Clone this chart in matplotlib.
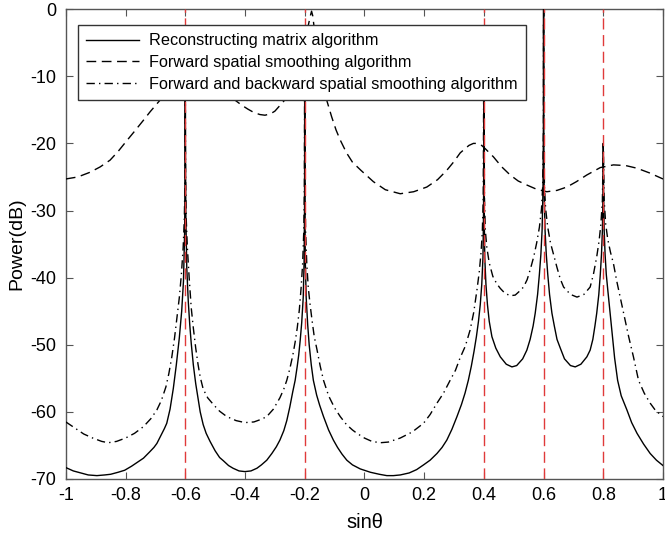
import numpy as np
import matplotlib.pyplot as plt

plt.rcParams['font.family'] = ['Liberation Sans', 'DejaVu Sans']
plt.rcParams['axes.unicode_minus'] = False

# reconstructing matrix algorithm (solid)
x_rm = [-1.0, -0.975, -0.95, -0.925, -0.896, -0.87, -0.85, -0.825, -0.803, -0.78,
        -0.76, -0.74, -0.72, -0.705, -0.695, -0.68, -0.67, -0.662, -0.651, -0.64,
        -0.63, -0.62, -0.612, -0.606, -0.602, -0.6005, -0.6, -0.5995, -0.598, -0.595,
        -0.59, -0.585, -0.58, -0.573, -0.565, -0.55, -0.54, -0.53, -0.517, -0.5,
        -0.485, -0.472, -0.455, -0.44, -0.42, -0.4, -0.38, -0.36, -0.345, -0.327,
        -0.31, -0.295, -0.283, -0.27, -0.26, -0.25, -0.24, -0.232, -0.225, -0.22,
        -0.215, -0.21, -0.205, -0.202, -0.2005, -0.2, -0.1995, -0.198, -0.195, -0.19,
        -0.185, -0.178, -0.171, -0.16, -0.15, -0.137, -0.12, -0.104, -0.09, -0.075,
        -0.059, -0.04, -0.014, 0.02, 0.05, 0.075, 0.097, 0.12, 0.15, 0.175,
        0.198, 0.22, 0.243, 0.26, 0.276, 0.293, 0.31, 0.325, 0.337, 0.348,
        0.358, 0.367, 0.375, 0.382, 0.388, 0.393, 0.397, 0.399, 0.3997, 0.4,
        0.4003, 0.401, 0.403, 0.407, 0.412, 0.418, 0.427, 0.44, 0.455, 0.475,
        0.494, 0.51, 0.53, 0.544, 0.555, 0.565, 0.572, 0.58, 0.586, 0.591,
        0.595, 0.598, 0.5995, 0.6, 0.6005, 0.602, 0.605, 0.609, 0.614, 0.62,
        0.628, 0.636, 0.645, 0.656, 0.67, 0.69, 0.706, 0.725, 0.745, 0.756,
        0.765, 0.772, 0.778, 0.785, 0.79, 0.794, 0.797, 0.799, 0.8, 0.801,
        0.803, 0.806, 0.81, 0.815, 0.823, 0.83, 0.838, 0.848, 0.86, 0.879,
        0.895, 0.913, 0.935, 0.957, 0.978, 1.0]
p_rm = [-68.3, -68.8, -69.1, -69.4, -69.5, -69.4, -69.3, -69.0, -68.7, -68.1,
        -67.5, -66.9, -66.0, -65.3, -64.7, -63.4, -62.5, -61.7, -59.6, -56.5,
        -53.0, -49.0, -45.0, -40.5, -33.0, -20.0, -8.0, -20.0, -31.0, -38.5,
        -43.5, -47.0, -49.8, -53.0, -55.8, -60.0, -61.9, -63.2, -64.4, -65.8,
        -66.8, -67.3, -68.0, -68.4, -68.8, -68.9, -68.8, -68.4, -67.9, -67.2,
        -66.2, -65.2, -64.2, -62.8, -61.3, -59.3, -57.0, -55.3, -53.2, -51.5,
        -49.3, -46.7, -43.0, -37.5, -29.0, -6.0, -29.0, -37.5, -43.0, -47.0,
        -50.0, -53.0, -55.3, -57.5, -59.0, -60.7, -62.7, -64.2, -65.3, -66.3,
        -67.2, -67.9, -68.5, -69.0, -69.3, -69.5, -69.5, -69.4, -69.1, -68.6,
        -67.9, -67.2, -66.2, -65.3, -64.2, -62.6, -60.7, -58.9, -57.2, -55.3,
        -53.2, -51.0, -48.8, -46.5, -44.0, -41.0, -37.0, -30.0, -18.0, -3.0,
        -18.0, -30.0, -37.0, -41.0, -44.0, -46.5, -48.8, -50.5, -51.8, -52.9,
        -53.3, -53.1, -52.1, -50.8, -49.2, -47.2, -45.3, -42.5, -39.5, -36.5,
        -33.0, -27.0, -17.0, 0.0, -17.0, -27.0, -33.0, -36.5, -39.5, -42.5,
        -45.3, -47.2, -49.2, -50.5, -52.1, -53.1, -53.3, -52.9, -51.8, -50.8,
        -49.2, -47.2, -45.3, -42.5, -39.5, -36.5, -33.0, -27.0, -20.0, -27.0,
        -33.0, -36.5, -39.5, -41.8, -45.3, -48.5, -52.0, -55.3, -57.6, -59.7,
        -61.6, -63.2, -64.8, -66.2, -67.2, -68.0]

# forward spatial smoothing algorithm (dashed)
x_fss = [-1.0, -0.96, -0.919, -0.885, -0.852, -0.825, -0.796, -0.77, -0.741, -0.718,
         -0.695, -0.67, -0.64, -0.6, -0.55, -0.5, -0.45, -0.411, -0.39, -0.37,
         -0.35, -0.333, -0.315, -0.3, -0.282, -0.26, -0.24, -0.225, -0.21, -0.197,
         -0.187, -0.18, -0.177, -0.173, -0.165, -0.157, -0.148, -0.137, -0.126, -0.11,
         -0.095, -0.081, -0.06, -0.04, -0.012, 0.03, 0.07, 0.12, 0.165, 0.209,
         0.245, 0.276, 0.3, 0.321, 0.35, 0.365, 0.377, 0.39, 0.405, 0.432,
         0.46, 0.488, 0.515, 0.544, 0.575, 0.611, 0.645, 0.678, 0.71, 0.745,
         0.79, 0.834, 0.875, 0.913, 0.955, 1.0]
p_fss = [-25.3, -25.0, -24.3, -23.5, -22.5, -21.2, -19.6, -18.2, -16.6, -15.3,
         -14.1, -12.8, -11.4, -10.0, -10.3, -11.5, -13.0, -14.3, -14.9, -15.4,
         -15.7, -15.8, -15.6, -15.2, -14.3, -13.2, -11.5, -9.5, -7.0, -4.5,
         -2.2, -0.8, -0.3, -1.0, -4.0, -7.0, -9.5, -11.8, -13.6, -16.0,
         -18.0, -19.5, -21.4, -22.8, -24.0, -25.7, -26.9, -27.5, -27.2, -26.5,
         -25.4, -24.0, -22.7, -21.4, -20.3, -20.0, -20.0, -20.2, -20.8, -22.0,
         -23.5, -24.7, -25.6, -26.2, -26.8, -27.2, -27.0, -26.5, -25.7, -24.7,
         -23.6, -23.2, -23.3, -23.7, -24.4, -25.3]

# forward and backward spatial smoothing algorithm (dash-dot)
x_fbss = [-1.0, -0.97, -0.94, -0.91, -0.88, -0.858, -0.83, -0.8, -0.77, -0.74,
          -0.715, -0.695, -0.68, -0.665, -0.655, -0.645, -0.636, -0.628, -0.62, -0.613,
          -0.607, -0.603, -0.601, -0.6, -0.599, -0.597, -0.593, -0.587, -0.58, -0.573,
          -0.565, -0.557, -0.55, -0.54, -0.525, -0.506, -0.485, -0.461, -0.43, -0.4,
          -0.37, -0.345, -0.327, -0.305, -0.283, -0.27, -0.26, -0.25, -0.24, -0.232,
          -0.225, -0.218, -0.212, -0.207, -0.203, -0.201, -0.2, -0.199, -0.197, -0.193,
          -0.188, -0.182, -0.175, -0.168, -0.159, -0.148, -0.137, -0.12, -0.1, -0.081,
          -0.06, -0.04, -0.025, 0.0, 0.025, 0.053, 0.08, 0.12, 0.16, 0.198,
          0.22, 0.243, 0.265, 0.287, 0.305, 0.32, 0.338, 0.354, 0.366, 0.377,
          0.385, 0.391, 0.395, 0.398, 0.4, 0.402, 0.405, 0.41, 0.418, 0.43,
          0.443, 0.455, 0.47, 0.488, 0.505, 0.52, 0.533, 0.545, 0.556, 0.567,
          0.577, 0.586, 0.593, 0.597, 0.5995, 0.6, 0.6005, 0.603, 0.607, 0.614,
          0.623, 0.633, 0.645, 0.656, 0.667, 0.69, 0.712, 0.735, 0.756, 0.767,
          0.778, 0.786, 0.792, 0.797, 0.8, 0.803, 0.808, 0.815, 0.824, 0.834,
          0.845, 0.857, 0.868, 0.885, 0.901, 0.918, 0.937, 0.957, 0.975, 1.0]
p_fbss = [-61.5, -62.4, -63.3, -63.9, -64.4, -64.6, -64.4, -63.9, -63.2, -62.2,
          -61.0, -59.7, -58.3, -56.3, -54.3, -51.8, -49.0, -46.0, -43.0, -39.5,
          -35.5, -31.0, -25.0, -8.0, -25.0, -31.0, -35.5, -40.0, -44.5, -47.5,
          -50.5, -53.0, -54.8, -56.6, -57.9, -58.9, -59.9, -60.7, -61.3, -61.6,
          -61.5, -61.1, -60.7, -59.6, -57.9, -56.6, -55.3, -53.6, -51.6, -49.6,
          -47.5, -44.8, -41.5, -38.0, -33.0, -26.0, -6.0, -26.0, -33.0, -38.0,
          -41.5, -44.0, -46.5, -48.8, -50.7, -53.2, -55.3, -57.6, -59.4, -60.7,
          -61.9, -62.7, -63.2, -63.9, -64.4, -64.6, -64.5, -63.9, -63.0, -61.7,
          -60.4, -58.7, -57.2, -55.3, -53.8, -52.0, -50.2, -47.8, -45.2, -41.8,
          -39.0, -36.0, -33.0, -28.0, -5.0, -28.0, -33.0, -35.5, -37.8, -39.8,
          -40.9, -41.6, -42.3, -42.7, -42.6, -42.0, -41.4, -40.3, -38.7, -36.9,
          -34.8, -32.5, -29.8, -26.5, -18.0, -2.0, -18.0, -26.5, -29.8, -32.5,
          -34.8, -36.5, -38.5, -40.2, -41.4, -42.5, -42.9, -42.5, -41.4, -39.5,
          -36.9, -34.5, -32.0, -28.5, -20.0, -28.5, -32.0, -34.3, -36.2, -37.9,
          -40.5, -43.0, -45.3, -48.8, -51.8, -55.3, -57.2, -58.7, -59.8, -60.7]

true_angles = [-0.6, -0.2, 0.4, 0.6, 0.8]
x_ticks = [-1, -0.8, -0.6, -0.4, -0.2, 0, 0.2, 0.4, 0.6, 0.8, 1]
x_ticklabels = ['-1', '-0.8', '-0.6', '-0.4', '-0.2', '0', '0.2', '0.4', '0.6', '0.8', '1']
y_ticks = [-70, -60, -50, -40, -30, -20, -10, 0]

fig = plt.figure(figsize=(6.65, 5.4), dpi=100)
ax = fig.add_axes([0.099, 0.113, 0.898, 0.870])

ax.plot(x_rm, p_rm, color='k', lw=1.0, ls='-', label='Reconstructing matrix algorithm', zorder=3)
ax.plot(x_fss, p_fss, color='k', lw=1.0, ls=(0, (7, 4)), label='Forward spatial smoothing algorithm', zorder=3)
ax.plot(x_fbss, p_fbss, color='k', lw=1.0, ls=(0, (6, 3, 1, 3)),
        label='Forward and backward spatial smoothing algorithm', zorder=3)

for a in true_angles:
    ax.plot([a, a], [-70, 0], color='#e03a3a', lw=1.0, ls=(0, (8, 4)), zorder=4)

ax.set_xlim(-1, 1)
ax.set_ylim(-70, 0)
ax.set_xticks(x_ticks)
ax.set_xticklabels(x_ticklabels)
ax.set_yticks(y_ticks)
ax.set_yticklabels([str(v) for v in y_ticks])
ax.tick_params(direction='in', top=True, right=True, labelsize=13, length=5, color='#555555')
ax.tick_params(axis='x', pad=6)
ax.tick_params(axis='y', pad=7)
for s in ax.spines.values():
    s.set_color('#555555')
    s.set_linewidth(1.0)
ax.set_xlabel('sinθ', fontsize=14.5)
ax.set_ylabel('Power(dB)', fontsize=14)
ax.xaxis.set_label_coords(0.5, -0.072)
ax.yaxis.set_label_coords(-0.068, 0.5)

leg = ax.legend(loc='upper left', bbox_to_anchor=(0.0204, 0.966), fontsize=11.7, frameon=True,
                fancybox=False, edgecolor='#333333', framealpha=1, borderaxespad=0,
                handlelength=3.25, handletextpad=0.62, labelspacing=0.42, borderpad=0.5)
leg.get_frame().set_linewidth(1.0)
leg.set_zorder(5)

fig.savefig('out.png', dpi=100)
